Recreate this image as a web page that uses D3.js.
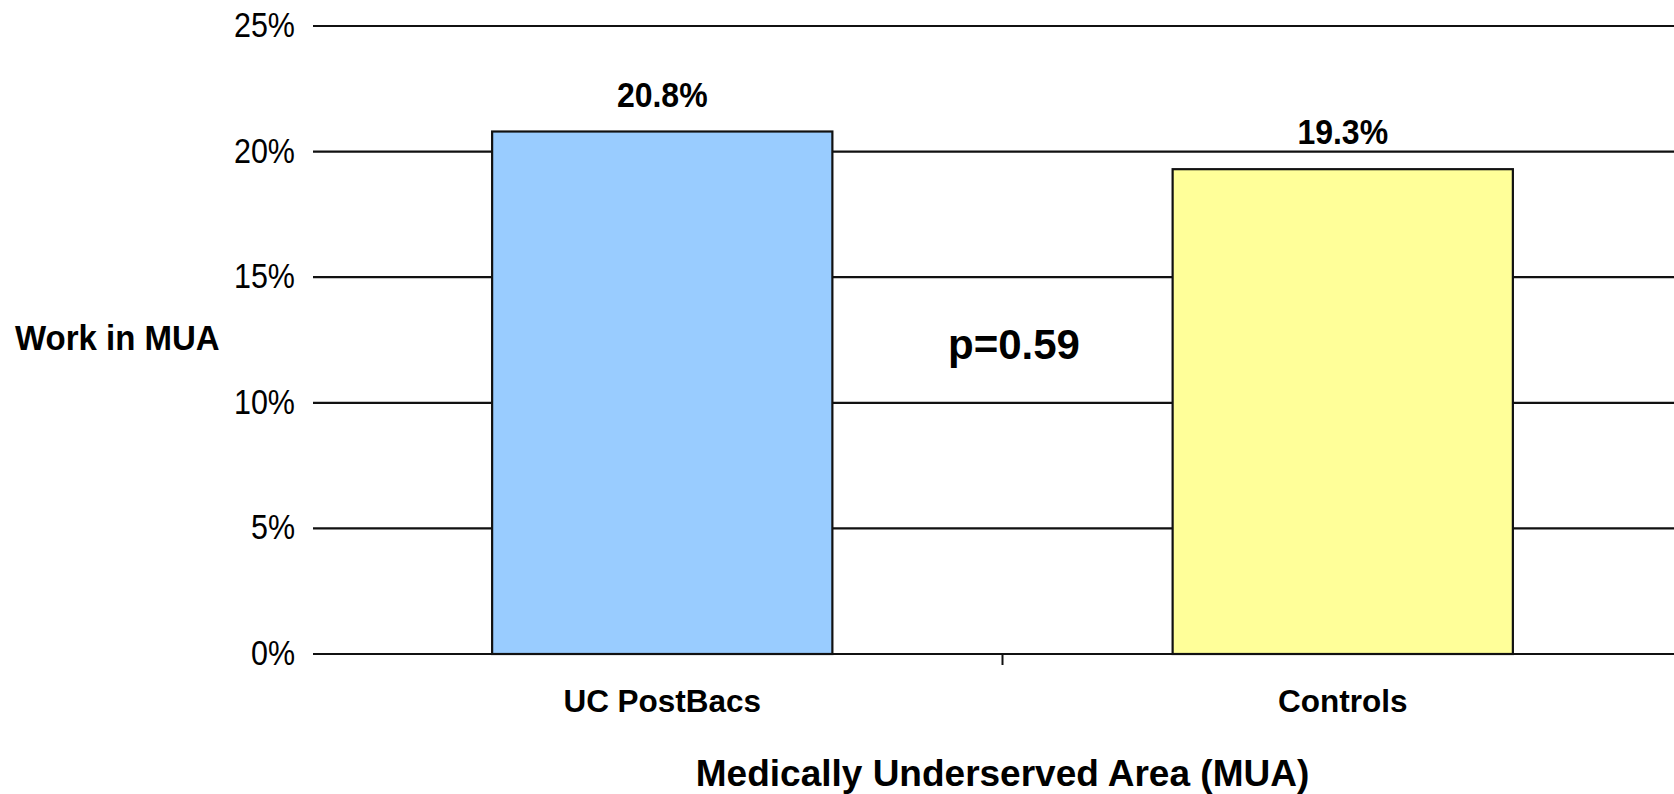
<!DOCTYPE html>
<html>
<head>
<meta charset="UTF-8">
<style>
    body { margin: 0; background: #fff; }
    text { font-family: "Liberation Sans", Arial, sans-serif; fill: #000; }
</style>
<script src="https://d3js.org/d3.v7.min.js"></script>
</head>
<body>
<svg width="1674" height="794"></svg>
<script>
    // data
    var categories = ["UC PostBacs", "Controls"];
    var values = [20.8, 19.3];
    var valueLabels = ["20.8%", "19.3%"];
    var barColors = ["#99ccff", "#ffff99"];
    var yTicks = [0, 5, 10, 15, 20, 25];

    var svg = d3.select("svg");

    var gridLeft = 313, gridRight = 1674;

    var x = d3.scaleBand().domain(categories)
        .range([322, 1683]).paddingInner(0.5).paddingOuter(0.25);
    var y = d3.scaleLinear().domain([0, 25]).range([654, 26]);

    // gridlines
    svg.append("g").selectAll("line")
        .data(yTicks)
        .enter().append("line")
        .attr("x1", gridLeft).attr("x2", gridRight)
        .attr("y1", function(d) { return y(d); })
        .attr("y2", function(d) { return y(d); })
        .attr("stroke", "#111")
        .attr("stroke-width", 2.2);

    // y tick labels
    svg.append("g").selectAll("text")
        .data(yTicks)
        .enter().append("text")
        .attr("text-anchor", "end")
        .attr("transform", function(d) {
            return "translate(295," + (y(d) + 11) + ") scale(1,1.12)";
        })
        .attr("font-size", "30.5px")
        .text(function(d) { return d + "%"; });

    // bars
    svg.append("g").selectAll("rect")
        .data(values)
        .enter().append("rect")
        .attr("x", function(d, i) { return x(categories[i]); })
        .attr("y", function(d) { return y(d); })
        .attr("width", x.bandwidth())
        .attr("height", function(d) { return y(0) - y(d); })
        .attr("fill", function(d, i) { return barColors[i]; })
        .attr("stroke", "#111")
        .attr("stroke-width", 2.2);

    // value labels
    svg.append("g").selectAll("text")
        .data(values)
        .enter().append("text")
        .attr("text-anchor", "middle")
        .attr("font-weight", "bold")
        .attr("font-size", "32px")
        .attr("transform", function(d, i) {
            return "translate(" + (x(categories[i]) + x.bandwidth() / 2) + "," + (y(d) - 25) + ") scale(1,1.08)";
        })
        .text(function(d, i) { return valueLabels[i]; });

    // x axis tick between the bars
    var mid = (x(categories[0]) + x.bandwidth() + x(categories[1])) / 2;
    svg.append("line")
        .attr("x1", mid).attr("x2", mid)
        .attr("y1", y(0)).attr("y2", y(0) + 11)
        .attr("stroke", "#111").attr("stroke-width", 2);

    // category labels
    svg.append("g").selectAll("text")
        .data(categories)
        .enter().append("text")
        .attr("text-anchor", "middle")
        .attr("font-weight", "bold")
        .attr("font-size", "31.5px")
        .attr("transform", function(d) {
            return "translate(" + (x(d) + x.bandwidth() / 2) + ",712) scale(1,1.02)";
        })
        .text(function(d) { return d; });

    // axis titles
    svg.append("text")
        .attr("x", mid).attr("y", 786)
        .attr("text-anchor", "middle")
        .attr("font-weight", "bold")
        .attr("font-size", "37px")
        .text("Medically Underserved Area (MUA)");

    svg.append("text")
        .attr("transform", "translate(15,350) scale(1,1.06)")
        .attr("font-weight", "bold")
        .attr("font-size", "33px")
        .text("Work in MUA");

    // p-value annotation
    svg.append("text")
        .attr("x", 948).attr("y", 359)
        .attr("font-weight", "bold")
        .attr("font-size", "42px")
        .text("p=0.59");
</script>
</body>
</html>
